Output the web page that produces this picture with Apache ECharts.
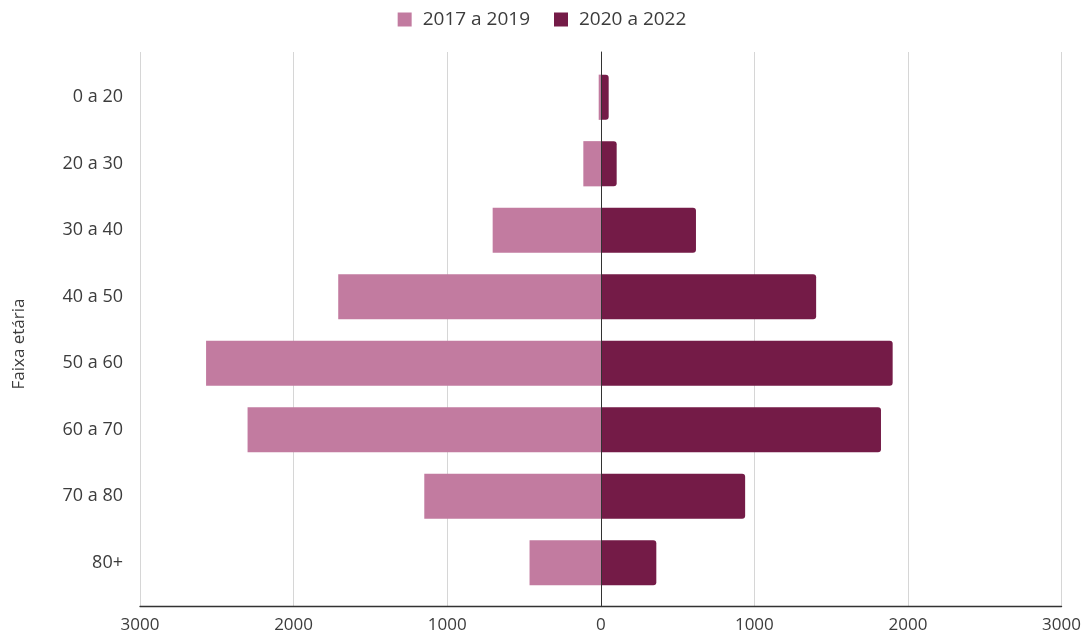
<!DOCTYPE html>
<html>
<head>
<meta charset="utf-8">
<script src="https://cdn.jsdelivr.net/npm/echarts@6/dist/echarts.min.js"></script>
<style>html,body{margin:0;padding:0;background:#fff}#c{width:1084px;height:639px}</style>
</head>
<body>
<div id="c"></div>
<script>
const categories = ['0 a 20', '20 a 30', '30 a 40', '40 a 50', '50 a 60', '60 a 70', '70 a 80', '80+'];
const series2017 = [15, 115, 705, 1710, 2570, 2300, 1150, 465];
const series2020 = [50, 102, 618, 1400, 1898, 1822, 938, 360];
const seriesNames = ['2017 a 2019', '2020 a 2022'];
const xTicks = { min: -3000, max: 3000, interval: 1000 };
const axisTitle = 'Faixa etária';

const FONT = 'Open Sans';
const TXT = '#3c3c3c';
const chart = echarts.init(document.getElementById('c'));
chart.setOption({
  animation: false,
  textStyle: { fontFamily: FONT },
  legend: {
    top: 5, left: 'center', icon: 'rect', itemWidth: 14, itemHeight: 14, itemGap: 24,
    textStyle: { fontFamily: FONT, fontSize: 19, color: TXT, padding: [0, 0, 0, 6] },
    data: seriesNames
  },
  grid: [
    { left: 140, right: 22, top: 52, bottom: 33 },
    { left: 140, right: 22, top: 64, bottom: 43 }
  ],
  xAxis: [
    {
      gridIndex: 0, type: 'value', min: xTicks.min, max: xTicks.max, interval: xTicks.interval,
      axisLine: { show: true, lineStyle: { color: '#333', width: 1.3 } },
      axisTick: { show: false },
      splitLine: { show: true, lineStyle: { color: '#d6d6d6' } },
      axisLabel: { fontFamily: FONT, fontSize: 17, color: TXT, margin: 11, formatter: v => String(Math.abs(v)) }
    },
    {
      gridIndex: 1, type: 'value', min: xTicks.min, max: xTicks.max, interval: xTicks.interval, show: false
    }
  ],
  yAxis: [
    {
      gridIndex: 0, type: 'category', data: [''],
      axisLine: { show: true, onZero: true, lineStyle: { color: '#333', width: 1 } },
      axisTick: { show: false }, axisLabel: { show: false }, splitLine: { show: false }, z: 5
    },
    {
      gridIndex: 1, type: 'category', data: categories, inverse: true,
      axisLine: { show: false, onZero: false }, axisTick: { show: false },
      axisLabel: { fontFamily: FONT, fontSize: 18, color: TXT, margin: 17 },
      name: axisTitle, nameLocation: 'middle', nameGap: 112,
      nameTextStyle: { fontFamily: FONT, fontSize: 17, color: TXT, padding: [0, 28, 0, 0] }
    }
  ],
  series: [
    {
      name: seriesNames[0], type: 'bar', xAxisIndex: 1, yAxisIndex: 1,
      data: series2017.map(v => -v), barGap: '-100%', barCategoryGap: '32%',
      itemStyle: { color: '#c27ba0' }
    },
    {
      name: seriesNames[1], type: 'bar', xAxisIndex: 1, yAxisIndex: 1,
      data: series2020, barGap: '-100%', barCategoryGap: '32%',
      itemStyle: { color: '#741b47', borderRadius: [0, 3, 3, 0] }
    }
  ]
});
</script>
</body>
</html>
